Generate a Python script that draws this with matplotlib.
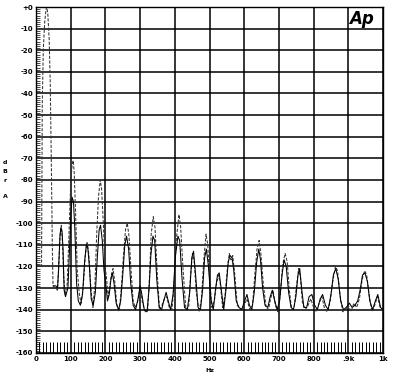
import numpy as np
import matplotlib
matplotlib.use("Agg")
import matplotlib.pyplot as plt
from matplotlib.ticker import MultipleLocator

# dashed trace (with the fundamental), Hz / dBr
dash_hz = [0, 16, 17, 18, 21, 25, 29, 31, 34, 38, 41, 44, 47, 49, 56, 62, 66, 70, 73, 76,
           80, 84, 90, 96, 100, 104, 107, 110, 114, 119, 125, 130, 136, 142, 147, 152, 158, 164, 170, 175,
           180, 185, 189, 194, 199, 203, 208, 212, 217, 222, 227, 233, 240, 246, 252, 258, 263, 268, 274, 280,
           286, 292, 298, 302, 307, 315, 322, 327, 332, 338, 343, 349, 356, 363, 370, 377, 384, 392, 398, 404,
           412, 417, 424, 432, 440, 445, 451, 456, 462, 470, 477, 483, 490, 495, 500, 507, 514, 520, 526, 531,
           538, 545, 551, 557, 562, 567, 573, 580, 590, 600, 608, 616, 624, 630, 637, 643, 648, 655, 663, 670,
           676, 683, 690, 697, 704, 711, 718, 724, 730, 737, 744, 750, 757, 762, 768, 776, 784, 792, 800, 808,
           816, 824, 832, 840, 848, 856, 863, 869, 876, 884, 892, 900, 908, 916, 924, 932, 940, 947, 953, 960,
           968, 976, 984, 992, 1000]
dash_db = [-120, -120, -80, -45, -20, -7, -1, 0, -3, -15, -35, -70, -110, -129, -130, -131, -118, -104, -101, -108,
           -125, -133, -128, -100, -82, -73, -71, -76, -95, -122, -133, -137, -130, -115, -109, -114, -130, -139, -128, -105,
           -88, -80, -84, -100, -120, -125, -134, -130, -124, -121, -127, -138, -141, -130, -115, -103, -100, -106, -122, -136,
           -139, -137, -132, -131, -137, -141, -140, -125, -105, -97, -102, -122, -140, -138, -135, -134, -139, -140, -128, -108,
           -96, -102, -122, -140, -139, -125, -114, -118, -132, -141, -135, -118, -105, -110, -125, -139, -136, -128, -124, -128,
           -139, -133, -122, -114, -117, -115, -124, -138, -140, -138, -135, -140, -138, -125, -112, -108, -114, -128, -139, -140,
           -135, -131, -138, -141, -133, -119, -114, -118, -131, -140, -139, -130, -121, -125, -137, -140, -138, -135, -139, -141,
           -137, -134, -140, -141, -136, -126, -120, -122, -133, -141, -140, -138, -141, -137, -139, -135, -126, -122, -124, -133,
           -141, -138, -134, -139, -140]

# solid trace
solid_hz = [50, 57, 62, 65, 69, 72, 75, 78, 81, 85, 92, 97, 101, 104, 108, 112, 117, 122, 128, 134,
            140, 145, 149, 154, 159, 165, 171, 177, 182, 186, 191, 196, 201, 206, 211, 216, 220, 225, 231, 238,
            244, 250, 256, 261, 267, 273, 280, 287, 294, 300, 305, 312, 320, 326, 331, 337, 342, 348, 355, 362,
            368, 375, 381, 388, 395, 402, 409, 414, 421, 428, 436, 443, 449, 454, 460, 467, 474, 480, 486, 491,
            497, 504, 511, 517, 523, 528, 534, 541, 548, 554, 559, 565, 570, 577, 585, 593, 601, 608, 615, 622,
            629, 636, 642, 647, 653, 660, 668, 675, 681, 688, 695, 702, 709, 715, 721, 728, 735, 742, 749, 755,
            760, 766, 772, 780, 787, 795, 803, 811, 819, 826, 834, 842, 850, 857, 864, 871, 878, 886, 894, 903,
            911, 919, 927, 934, 941, 948, 955, 962, 970, 978, 985, 993, 1000]
solid_db = [-129, -129, -130, -122, -106, -102, -104, -112, -131, -134, -130, -110, -95, -88, -90, -103, -128, -136, -138, -133,
            -118, -110, -111, -120, -135, -138, -132, -115, -103, -101, -108, -122, -128, -136, -133, -126, -123, -128, -137, -140,
            -136, -124, -110, -106, -112, -128, -138, -140, -135, -129, -133, -140, -141, -130, -115, -106, -108, -126, -139, -140,
            -136, -132, -136, -140, -133, -115, -106, -108, -126, -139, -140, -132, -116, -113, -124, -139, -140, -131, -116, -112,
            -120, -135, -140, -131, -124, -123, -131, -140, -130, -118, -115, -116, -122, -136, -139, -140, -136, -133, -138, -140,
            -132, -118, -112, -117, -130, -138, -139, -134, -131, -136, -140, -136, -124, -117, -120, -132, -139, -140, -134, -124,
            -121, -131, -139, -139, -134, -133, -138, -140, -135, -133, -138, -140, -133, -124, -121, -126, -136, -140, -139, -137,
            -139, -138, -136, -131, -124, -123, -127, -136, -140, -136, -133, -139, -140]

xticks = [0, 100, 200, 300, 400, 500, 600, 700, 800, 900, 1000]
xlabels = ["0", "100", "200", "300", "400", "500", "600", "700", "800", ".9k", "1k"]
yticks = list(range(0, -170, -10))
ylabels = ["+0"] + [str(v) for v in yticks[1:]]

fig = plt.figure(figsize=(4.0, 3.79), dpi=100)
ax = fig.add_axes([0.09, 0.069, 0.8675, 0.9125])

ax.plot(dash_hz, dash_db, color="#333333", lw=0.75, ls=(0, (3, 1.5)))
ax.plot(solid_hz, solid_db, color="black", lw=0.75)

ax.set_xlim(0, 1000)
ax.set_ylim(-160, 0)
ax.set_xticks(xticks)
ax.set_xticklabels(xlabels, fontsize=5, fontweight="bold")
ax.set_yticks(yticks)
ax.set_yticklabels(ylabels, fontsize=5, fontweight="bold")
ax.xaxis.set_minor_locator(MultipleLocator(10))
ax.yaxis.set_minor_locator(MultipleLocator(1))
ax.tick_params(which="major", length=0, pad=2)
ax.tick_params(axis="x", which="minor", direction="in", length=8, width=0.7, bottom=True)
ax.tick_params(axis="y", which="minor", direction="in", length=3, width=0.5, left=True)
ax.grid(True, which="major", color="black", lw=1.1)
for s in ax.spines.values():
    s.set_linewidth(1.0)

ax.text(0.5, -0.045, "Hz", transform=ax.transAxes, fontsize=4.5, fontweight="bold",
        ha="center", va="top")

# stacked y label
for letter, ypx in [("d", 163), ("B", 172), ("r", 181), ("A", 196)]:
    fig.text(5 / 400, 1 - ypx / 379, letter, fontsize=4.5, fontweight="bold", ha="center", va="center")

ax.text(0.975, 0.99, "Ap", transform=ax.transAxes, fontsize=12, fontweight="bold",
        fontstyle="italic", ha="right", va="top")

fig.savefig("out.png", dpi=100)
